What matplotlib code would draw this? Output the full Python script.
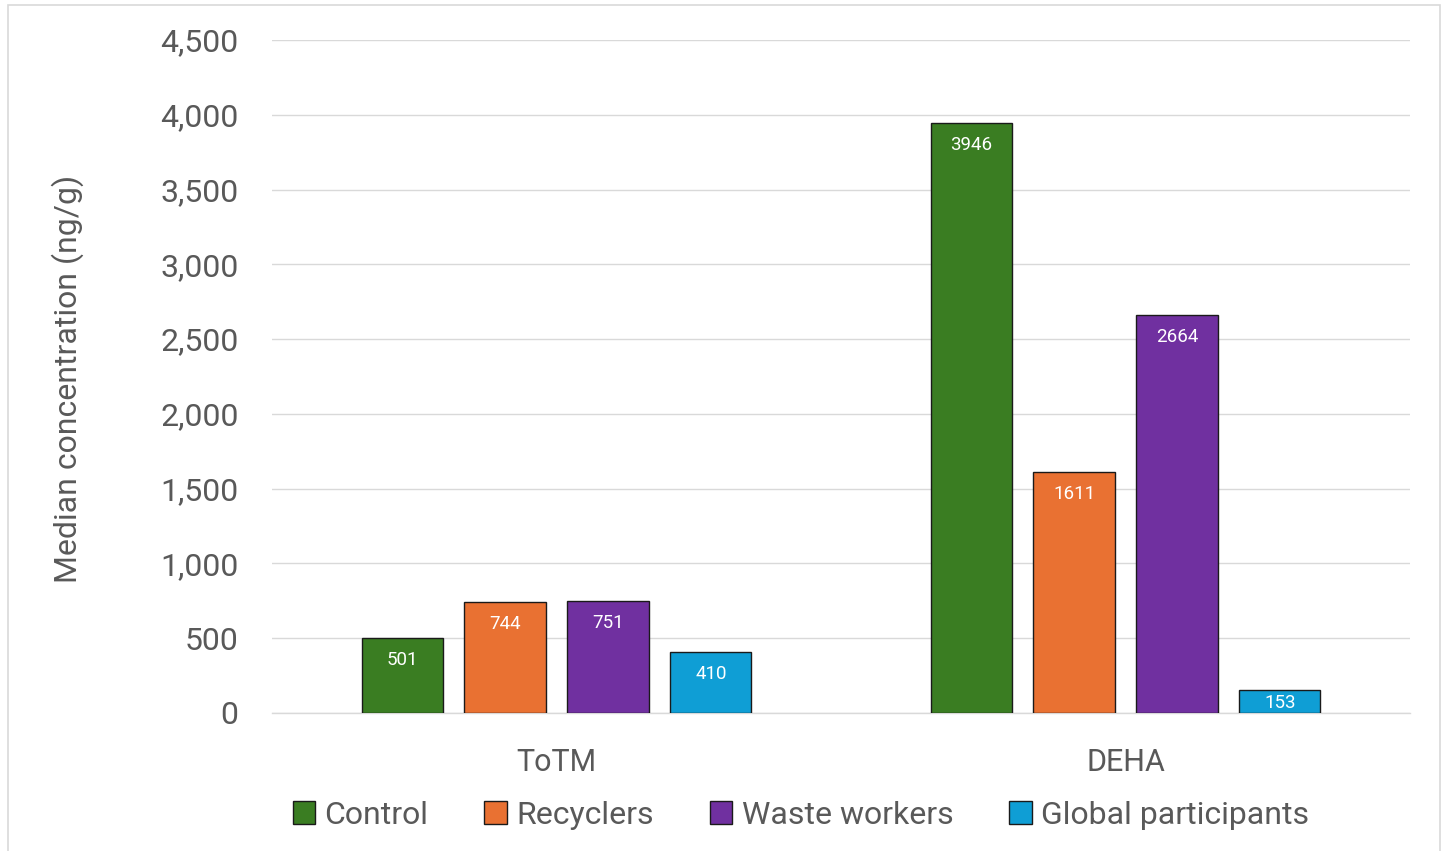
import matplotlib
matplotlib.use("Agg")
import matplotlib.pyplot as plt
from matplotlib.patches import Rectangle
import numpy as np

categories = ["ToTM", "DEHA"]
series_names = ["Control", "Recyclers", "Waste workers", "Global participants"]
control = [501, 3946]
recyclers = [744, 1611]
waste_workers = [751, 2664]
global_participants = [410, 153]
yticks = [0, 500, 1000, 1500, 2000, 2500, 3000, 3500, 4000, 4500]

colors = ["#3A7D22", "#E97132", "#7030A0", "#0F9ED5"]
text_color = "#595959"

plt.rcParams['font.family'] = ['Roboto', 'DejaVu Sans']

fig = plt.figure(figsize=(14.48, 8.51), dpi=100)
W, H = 1448, 851
ax = fig.add_axes([272 / W, 1 - 713 / H, (1410 - 272) / W, (713 - 40) / H])

fig.patches.append(Rectangle((8 / W, -0.01), (1440 - 8) / W, 1 - 5 / H + 0.01,
                             transform=fig.transFigure, fill=False,
                             edgecolor="#D9D9D9", linewidth=1.2))

x = np.arange(len(categories))
step = 0.181
width = 0.1424
px_per_unit = (713 - 40) / 4500
all_series = [control, recyclers, waste_workers, global_participants]
for i, (vals, name, c) in enumerate(zip(all_series, series_names, colors)):
    pos = x + (i - 1.5) * step
    bars = ax.bar(pos, vals, width=width, color=c, edgecolor="#1a1a1a",
                  linewidth=1.0, label=name, zorder=3)
    for b, v in zip(bars, vals):
        off_px = min(22, v * px_per_unit / 2 + 1.5)
        ax.annotate(f"{v}", (b.get_x() + b.get_width() / 2, v),
                    xytext=(0, -off_px * 0.72), textcoords="offset points",
                    ha="center", va="center", color="white", fontsize=13.5,
                    zorder=4)

ax.set_xlim(-0.5, 1.5)
ax.set_ylim(0, 4500)
ax.set_yticks(yticks)
ax.set_yticklabels([f"{t:,}" for t in yticks], fontsize=23, color=text_color)
ax.set_xticks(x)
ax.set_xticklabels(categories, fontsize=22, color=text_color)
ax.tick_params(axis="both", length=0)
ax.tick_params(axis="x", pad=25)
ax.tick_params(axis="y", pad=24)
ax.yaxis.grid(True, color="#D9D9D9", linewidth=1.0, zorder=0)
ax.set_axisbelow(True)
for s in ["top", "right", "left"]:
    ax.spines[s].set_visible(False)
ax.spines["bottom"].set_color("#D9D9D9")
ax.spines["bottom"].set_linewidth(1.0)

fig.text(68 / W, 1 - 379 / H, "Median concentration (ng/g)", rotation=90,
         ha="center", va="center", fontsize=23, color=text_color)

leg = fig.legend(loc="center", bbox_to_anchor=(801 / W, 1 - 815 / H), ncol=4,
                 frameon=False, fontsize=23, handlelength=0.7, handleheight=0.7,
                 handletextpad=0.3, columnspacing=1.75, labelcolor=text_color)

fig.savefig("out.png", dpi=100, facecolor="white")
